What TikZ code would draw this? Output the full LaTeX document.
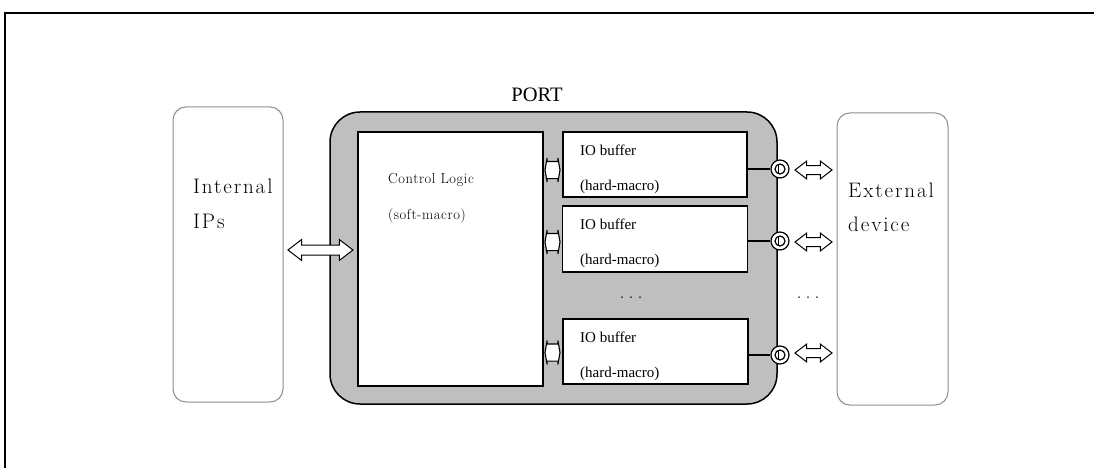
\documentclass[tikz,border=0pt]{standalone}
\usepackage{fontspec}
\newfontfamily\timesf{Liberation Serif}
\newfontfamily\lmwide[LetterSpace=9]{Latin Modern Roman}
\newfontfamily\lmmid[LetterSpace=4]{Latin Modern Roman}
\usetikzlibrary{shapes.arrows,calc}
\tikzset{
  softbox/.style={draw=black!45, line width=1pt, rounded corners=13pt, fill=white, inner sep=0pt},
  portbox/.style={draw=black, line width=1.5pt, rounded corners=30pt, fill=black!25, inner sep=0pt},
  whitebox/.style={draw=black, line width=1.2pt, fill=white, inner sep=0pt},
  bigtext/.style={font=\lmwide\fontsize{21}{24}\selectfont, inner sep=0pt, anchor=base west},
  midtext/.style={font=\lmmid\fontsize{14.5}{17}\selectfont, inner sep=0pt, anchor=base west},
  iotext/.style={font=\timesf\fontsize{15}{18}\selectfont, inner sep=0pt, anchor=base west},
  bigarrow/.style={double arrow, draw=black, line width=1pt, fill=white, inner xsep=0pt,
     inner ysep=4.5pt, minimum width=0pt, double arrow head extend=5.5pt, double arrow tip angle=75},
  smallconn/.style={double arrow, draw=black, line width=1.1pt, fill=white, inner xsep=0pt,
     inner ysep=8pt, minimum width=0pt, minimum height=15pt, double arrow head extend=3.5pt,
     double arrow tip angle=160},
  pad/.style={circle, draw=black, line width=1.2pt, fill=white, minimum size=18pt, inner sep=0pt},
  dotstext/.style={font=\fontsize{20}{24}\selectfont, inner sep=0pt},
}
\begin{document}
\begin{tikzpicture}[x=1pt,y=-1pt]
\useasboundingbox (0,0) rectangle (1094,468);
% frame
\draw[line width=2pt] (5,468) -- (5,13) -- (1094,13);

% outer blocks
\node[softbox, minimum width=110pt, minimum height=295pt] (ip) at (228,254.5) {};
\node[softbox, minimum width=111pt, minimum height=292pt] (ext) at (892.5,259) {};
\node[portbox, minimum width=447pt, minimum height=292pt] (port) at (553.5,258) {};
\node[font=\timesf\fontsize{20.5}{24}\selectfont, inner sep=0pt, anchor=base] (portlbl) at (537,102) {PORT};

% inner blocks
\node[whitebox, minimum width=185pt, minimum height=254pt] (ctrl) at (450.5,259) {};
\node[whitebox, minimum width=184pt, minimum height=65pt] (io1) at (655,164.5) {};
\node[whitebox, minimum width=185pt, minimum height=66pt] (io2) at (655,239) {};
\node[whitebox, minimum width=185pt, minimum height=65pt] (io3) at (655.5,351.5) {};

% texts
\node[bigtext] (t1) at (193,193) {Internal};
\node[bigtext] (t2) at (193,228) {IPs};
\node[bigtext] (t3) at (848,197) {External};
\node[bigtext] (t4) at (848,231) {device};
\node[midtext] (c1) at (388,183) {Control Logic};
\node[midtext] (c2) at (388,219) {(soft-macro)};
\node[iotext] (a1) at (580,155) {IO buffer};
\node[iotext] (a2) at (580,190) {(hard-macro)};
\node[iotext] (b1) at (580,229.5) {IO buffer};
\node[iotext] (b2) at (580,264.5) {(hard-macro)};
\node[iotext] (d1) at (580,342.5) {IO buffer};
\node[iotext] (d2) at (580,377) {(hard-macro)};
\node[dotstext] (dots1) at (631,298) {.\hspace{4pt}.\hspace{4pt}.};
\node[dotstext] (dots2) at (808,298) {.\hspace{4pt}.\hspace{4pt}.};

% Internal <-> control logic
\node[bigarrow, minimum height=65pt] (arrIP) at ($(ip.east)!0.5!(ctrl.west)+(0,-6.75)$) {};

% control logic <-> IO buffers
\node[smallconn] (s1) at (552.5,170) {};
\node[smallconn] (s2) at (552.5,242) {};
\node[smallconn] (s3) at (552.5,352.5) {};

% pads
\node[pad] (p1) at (780,169) {};
\node[pad] (p2) at (780,241) {};
\node[pad] (p3) at (780,355) {};
\foreach \p in {p1,p2,p3}{
  \draw[line width=1.2pt] (\p) circle (5pt);
  \draw[line width=1.2pt] ($(\p.center)+(-1.5,-5)$) -- ($(\p.center)+(-1.5,5)$);
}
\draw[line width=1.2pt] (io1.east |- p1.west) -- (p1.west);
\draw[line width=1.2pt] (io2.east |- p2.west) -- (p2.west);
\draw[line width=1.2pt] (io3.east |- p3.west) -- (p3.west);

% pads <-> external device
\node[bigarrow, minimum height=37pt, inner ysep=4pt, double arrow head extend=4.5pt] (e1) at (813.5,170) {};
\node[bigarrow, minimum height=37pt, inner ysep=4pt, double arrow head extend=4.5pt] (e2) at (813.5,242) {};
\node[bigarrow, minimum height=37pt, inner ysep=4pt, double arrow head extend=4.5pt] (e3) at (813.5,353) {};
\end{tikzpicture}
\end{document}
